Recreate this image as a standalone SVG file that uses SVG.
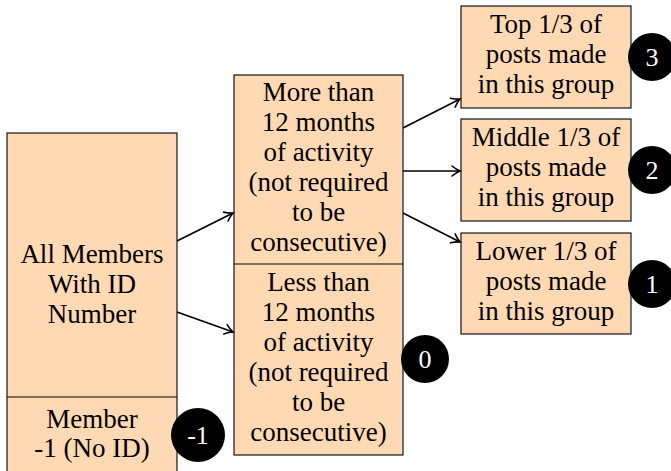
<svg xmlns="http://www.w3.org/2000/svg" width="671" height="471" viewBox="0 0 671 471">
<defs>
<style>
.box{fill:#FFD9B3;stroke:#000;stroke-width:1.1}
.div{stroke:#000;stroke-width:1.1}
.t{font-family:'Liberation Serif','Times New Roman',Tinos,'DejaVu Serif',serif;font-size:27px;fill:#000;text-anchor:middle}
.c{fill:#000}
.ct{font-family:'Liberation Serif','Times New Roman',Tinos,'DejaVu Serif',serif;font-size:26px;fill:#fff;text-anchor:middle}
.arr{stroke:#000;stroke-width:1.6;fill:none;marker-end:url(#ah)}
</style>
<marker id="ah" markerUnits="userSpaceOnUse" markerWidth="14" markerHeight="14" viewBox="-10 -7 14 14" refX="0" refY="0" orient="auto" overflow="visible">
<path d="M -8 -5 C -5 -2.5 -1.5 -0.6 0 0 C -1.5 0.6 -5 2.5 -8 5" fill="none" stroke="#000" stroke-width="1.6" stroke-linecap="round"/>
</marker>
</defs>
<rect width="671" height="471" fill="#fff"/>
<g id="all-members">
<rect class="box" x="7" y="133" width="170" height="350"/>
<line class="div" x1="7" y1="397" x2="177" y2="397"/>
<text class="t" x="92" y="263" font-family="Liberation Serif, serif">All Members</text>
<text class="t" x="92" y="293" font-family="Liberation Serif, serif">With ID</text>
<text class="t" x="92" y="323" font-family="Liberation Serif, serif">Number</text>
<text class="t" x="92" y="428" font-family="Liberation Serif, serif">Member</text>
<text class="t" x="92" y="457" font-family="Liberation Serif, serif">-1 (No ID)</text>
</g>
<g id="badge-m1">
<circle class="c" cx="198" cy="435" r="27"/>
<text class="ct" x="198" y="444">-1</text>
</g>
<g id="activity">
<rect class="box" x="234" y="75" width="169" height="380"/>
<line class="div" x1="234" y1="264" x2="403" y2="264"/>
<text class="t" x="318.5" y="101">More than</text>
<text class="t" x="318.5" y="131">12 months</text>
<text class="t" x="318.5" y="161">of activity</text>
<text class="t" x="318.5" y="191">(not required</text>
<text class="t" x="318.5" y="221">to be</text>
<text class="t" x="318.5" y="251">consecutive)</text>
<text class="t" x="318.5" y="291">Less than</text>
<text class="t" x="318.5" y="321">12 months</text>
<text class="t" x="318.5" y="351">of activity</text>
<text class="t" x="318.5" y="381">(not required</text>
<text class="t" x="318.5" y="411">to be</text>
<text class="t" x="318.5" y="441">consecutive)</text>
</g>
<g id="badge-0">
<circle class="c" cx="425" cy="359" r="24"/>
<text class="ct" x="425" y="368">0</text>
</g>
<g id="top">
<rect class="box" x="461" y="6" width="170" height="102"/>
<text class="t" x="546" y="33">Top 1/3 of</text>
<text class="t" x="546" y="63">posts made</text>
<text class="t" x="546" y="93">in this group</text>
</g>
<g id="badge-3">
<circle class="c" cx="652" cy="57" r="24"/>
<text class="ct" x="652" y="66">3</text>
</g>
<g id="middle">
<rect class="box" x="461" y="119" width="170" height="102"/>
<text class="t" x="546" y="146">Middle 1/3 of</text>
<text class="t" x="546" y="176">posts made</text>
<text class="t" x="546" y="206">in this group</text>
</g>
<g id="badge-2">
<circle class="c" cx="652" cy="170" r="24"/>
<text class="ct" x="652" y="179">2</text>
</g>
<g id="lower">
<rect class="box" x="461" y="233" width="170" height="101"/>
<text class="t" x="546" y="260">Lower 1/3 of</text>
<text class="t" x="546" y="290">posts made</text>
<text class="t" x="546" y="320">in this group</text>
</g>
<g id="badge-1">
<circle class="c" cx="652" cy="284" r="24"/>
<text class="ct" x="652" y="293">1</text>
</g>
<g id="connectors">
<line class="arr" x1="177" y1="241" x2="233" y2="213"/>
<line class="arr" x1="177" y1="312" x2="233" y2="332"/>
<line class="arr" x1="403" y1="128" x2="460" y2="99"/>
<line class="arr" x1="403" y1="171" x2="460" y2="171"/>
<line class="arr" x1="403" y1="213" x2="460" y2="242"/>
</g>
</svg>
